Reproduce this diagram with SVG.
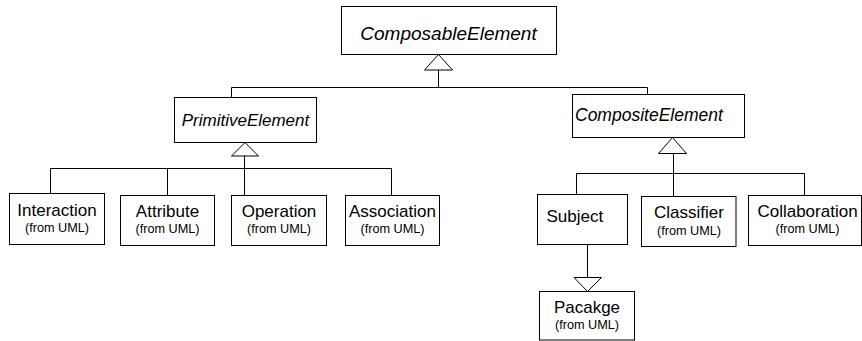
<svg xmlns="http://www.w3.org/2000/svg" width="862" height="341" viewBox="0 0 862 341">
  <style>
    .box { fill: #ffffff; stroke: #000000; stroke-width: 1; }
    .edge { fill: none; stroke: #000000; stroke-width: 1; }
    .tri { fill: #ffffff; stroke: #000000; stroke-width: 1; }
    .abs { font-family: "Liberation Sans", Arial, sans-serif; font-style: italic; fill: #000000; }
    .name { font-family: "Liberation Sans", Arial, sans-serif; font-size: 17px; fill: #000000; text-anchor: middle; }
    .left { text-anchor: start; }
    .from { font-family: "Liberation Sans", Arial, sans-serif; font-size: 12.7px; fill: #000000; text-anchor: middle; }
  </style>
  <rect width="862" height="341" fill="#ffffff"/>

  <!-- generalization connectors -->
  <g id="connectors">
    <path class="edge" d="M438.5,70 V87.5 M231.5,87.5 H647.5 M231.5,87.5 V97.5 M647.5,87.5 V94.5"/>
    <path class="tri" d="M438.5,54.5 L452.5,70 L424.5,70 Z"/>

    <path class="edge" d="M244.5,156 V168.5 M50.5,168.5 H391.5 M50.5,168.5 V193.5 M167.5,168.5 V195.5 M244.5,168.5 V195.5 M391.5,168.5 V195.5"/>
    <path class="tri" d="M245,142.5 L258.5,156 L231.5,156 Z"/>

    <path class="edge" d="M673.5,153.5 V173.5 M576.5,173.5 H804.5 M576.5,173.5 V194.5 M673.5,173.5 V196.5 M804.5,173.5 V195.5"/>
    <path class="tri" d="M672.5,137.5 L686.5,153.5 L658.5,153.5 Z"/>

    <path class="edge" d="M587.5,244.5 V277.5"/>
    <path class="tri" d="M574,277.5 L601.5,277.5 L587.5,291.5 Z"/>
  </g>

  <g id="ComposableElement">
    <rect class="box" x="341.5" y="6.5" width="215" height="48"/>
    <text class="abs" x="448.5" y="39.5" font-size="19" text-anchor="middle">ComposableElement</text>
  </g>

  <g id="PrimitiveElement">
    <rect class="box" x="174.5" y="97.5" width="142" height="45"/>
    <text class="abs" x="245.5" y="126" font-size="17" text-anchor="middle">PrimitiveElement</text>
  </g>

  <g id="CompositeElement">
    <rect class="box" x="572.5" y="94.5" width="172" height="43"/>
    <text class="abs" x="575" y="121" font-size="17.5">CompositeElement</text>
  </g>

  <g id="Interaction">
    <rect class="box" x="9.5" y="193.5" width="95" height="51"/>
    <text class="name" x="57" y="215.5">Interaction</text>
    <text class="from" x="57" y="231.5">(from UML)</text>
  </g>

  <g id="Attribute">
    <rect class="box" x="120.5" y="195.5" width="94" height="50"/>
    <text class="name" x="167.5" y="216.5">Attribute</text>
    <text class="from" x="167.5" y="232.5">(from UML)</text>
  </g>

  <g id="Operation">
    <rect class="box" x="231.5" y="195.5" width="95" height="50"/>
    <text class="name" x="279" y="216.5">Operation</text>
    <text class="from" x="279" y="232.5">(from UML)</text>
  </g>

  <g id="Association">
    <rect class="box" x="345.5" y="195.5" width="94" height="50"/>
    <text class="name" x="392.5" y="216.5">Association</text>
    <text class="from" x="392.5" y="232.5">(from UML)</text>
  </g>

  <g id="Subject">
    <rect class="box" x="537.5" y="194.5" width="90" height="50"/>
    <text class="name left" x="546.5" y="221.5">Subject</text>
  </g>

  <g id="Classifier">
    <rect class="box" x="641.5" y="196.5" width="94.5" height="50"/>
    <text class="name" x="689" y="218">Classifier</text>
    <text class="from" x="689" y="234.5">(from UML)</text>
  </g>

  <g id="Collaboration">
    <rect class="box" x="748.5" y="195.5" width="113" height="50"/>
    <text class="name" x="807.5" y="216.5">Collaboration</text>
    <text class="from" x="807.5" y="233">(from UML)</text>
  </g>

  <g id="Pacakge">
    <rect class="box" x="539.5" y="291.5" width="95" height="48.5"/>
    <text class="name" x="587" y="312.5">Pacakge</text>
    <text class="from" x="587" y="328.5">(from UML)</text>
  </g>
</svg>
